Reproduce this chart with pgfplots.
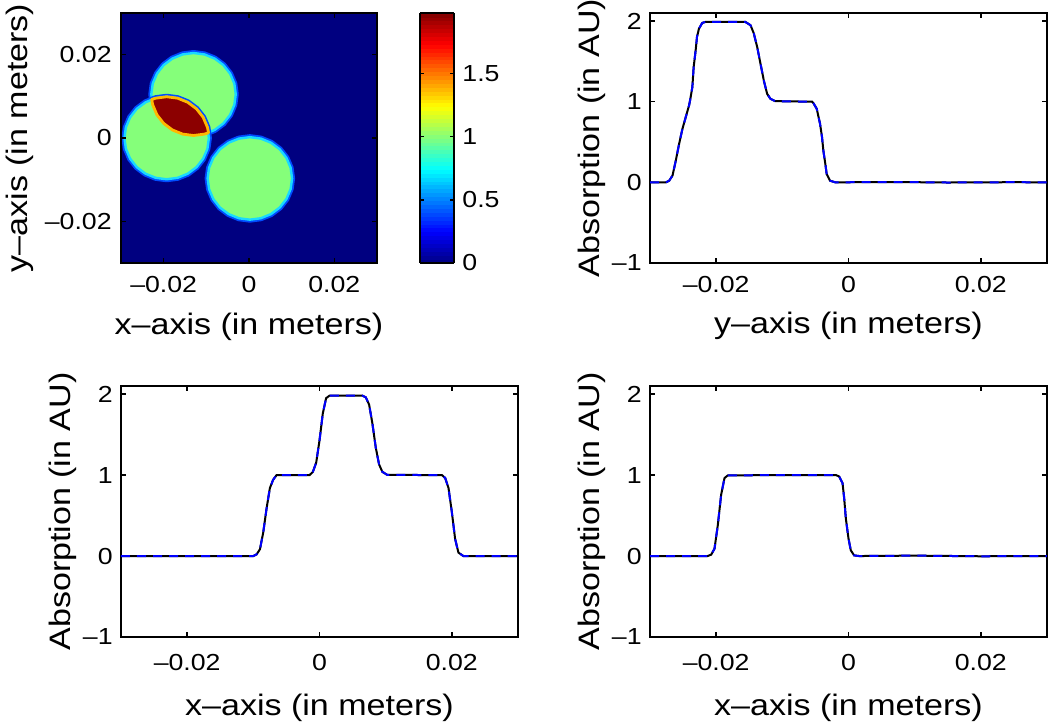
\documentclass[border=0pt]{standalone}
\usepackage{fontspec}
\setmainfont{Liberation Sans}[FakeStretch=1.15]
\usepackage{pgfplots}
\pgfplotsset{compat=1.18}
\usepackage{pgfplotstable}

\definecolor{jnavy}{rgb}{0,0,0.5}
\definecolor{jgreen}{rgb}{0.52,1,0.48}
\definecolor{jdred}{rgb}{0.55,0,0}
\definecolor{jedgeout}{rgb}{0,0.3,1}
\definecolor{jedgein}{rgb}{0.1,0.85,1}
\definecolor{jlensedge}{rgb}{1,0.72,0}
\definecolor{mblue}{rgb}{0,0,1}

\newcommand\ticksize{\fontsize{11.6}{13}\selectfont}
\newcommand\labsize{\fontsize{14.8}{17}\selectfont}

% profile along y (top right)
\pgfplotstableread{
x y
-0.0300 0.000
-0.0290 0.000
-0.0276 0.000
-0.0271 0.021
-0.0266 0.083
-0.0261 0.270
-0.0256 0.477
-0.0251 0.663
-0.0246 0.808
-0.0241 0.953
-0.0239 1.036
-0.0236 1.181
-0.0234 1.430
-0.0231 1.637
-0.0229 1.803
-0.0226 1.906
-0.0221 1.977
-0.0216 1.990
-0.0156 1.990
-0.0148 1.948
-0.0143 1.844
-0.0138 1.678
-0.0133 1.471
-0.0128 1.264
-0.0123 1.098
-0.0118 1.036
-0.0111 1.007
-0.0055 1.000
-0.0053 0.982
-0.0048 0.912
-0.0043 0.726
-0.0040 0.560
-0.0038 0.394
-0.0035 0.228
-0.0033 0.104
-0.0028 0.021
-0.0020 0.000
0.0050 0.004
0.0100 0.002
0.0150 -0.002
0.0200 0.000
0.0250 0.002
0.0300 0.000
}\tabTR

% profile along x (bottom left)
\pgfplotstableread{
x y
-0.0300 0.000
-0.0200 0.000
-0.0100 0.000
-0.0095 0.021
-0.0090 0.084
-0.0085 0.293
-0.0080 0.587
-0.0075 0.839
-0.0070 0.943
-0.0065 0.998
-0.0015 1.000
-0.0010 1.040
-0.0005 1.153
0.0000 1.426
0.0005 1.761
0.0010 1.950
0.0015 1.980
0.0065 1.980
0.0070 1.960
0.0075 1.870
0.0080 1.635
0.0085 1.342
0.0090 1.132
0.0095 1.040
0.01025 1.002
0.0185 1.000
0.0190 0.964
0.0195 0.839
0.0200 0.545
0.0205 0.210
0.0210 0.042
0.02175 0.000
0.0250 0.000
0.0300 0.000
}\tabBL

% profile along x (bottom right)
\pgfplotstableread{
x y
-0.0300 0.000
-0.0250 0.000
-0.0213 0.000
-0.02075 0.017
-0.02025 0.091
-0.01975 0.382
-0.01925 0.755
-0.01874 0.963
-0.01824 0.996
-0.0100 1.000
-0.0019 1.000
-0.00141 0.983
-0.00090 0.900
-0.00065 0.712
-0.00040 0.463
0.00000 0.216
0.00035 0.070
0.00085 0.008
0.0016 0.000
0.0100 0.005
0.0200 -0.003
0.0300 0.000
}\tabBR

\pgfplotsset{
  base/.style={
    scale only axis,
    xmin=-0.03, xmax=0.03,
    scaled x ticks=false, scaled y ticks=false,
    tick align=inside,
    major tick length=2.5pt,
    axis line style={line width=0.9pt},
    every tick/.style={black, line width=0.7pt},
    ticklabel style={font=\ticksize},
    label style={font=\labsize},
    xtick={-0.02,0,0.02},
    xticklabels={–0.02,0,0.02},
    yticklabel style={anchor=east, inner sep=0pt, xshift=-4pt},
  },
  prof/.style={
    base,
    width=198.5pt,
    ymin=-1, ymax=2.1,
    ytick={-1,0,1,2},
    yticklabels={–1,0,1,2},
    ylabel={Absorption (in AU)},
    ylabel style={at={([xshift=-25.5pt]axis description cs:0,0.5)}, anchor=base},
  },
  toprow/.style={
    height=125pt,
    xticklabel style={anchor=base, inner sep=0pt, yshift=-14.75pt},
    xlabel style={at={([yshift=-35.5pt]axis description cs:0.5,0)}, anchor=base},
  },
  botrow/.style={
    height=125.5pt,
    xticklabel style={anchor=base, inner sep=0pt, yshift=-16.5pt},
    xlabel style={at={([yshift=-39pt]axis description cs:0.5,0)}, anchor=base},
  },
  solidline/.style={black, line width=1pt},
  dashline/.style={mblue, line width=1pt, dash pattern=on 4.5pt off 3.5pt},
}

\begin{document}
\begin{tikzpicture}
% ---------------- top left: phantom image ----------------
\begin{axis}[
  base, toprow,
  at={(60.5pt,-6.5pt)}, anchor=north west,
  width=128pt,
  ymin=-0.03, ymax=0.03,
  ytick={-0.02,0,0.02},
  yticklabels={–0.02,0,0.02},
  yticklabel style={xshift=-0.5pt},
  axis background/.style={fill=jnavy},
  axis on top,
  xlabel={x–axis (in meters)},
  ylabel={y–axis (in meters)},
  ylabel style={at={([xshift=-46.8pt]axis description cs:0,0.5)}, anchor=base},
  colormap/jet,
  point meta min=0, point meta max=1.98,
  colorbar sampled,
  colorbar style={
    samples=65,
    width=17pt,
    at={(parent axis.north east)}, anchor=north west, xshift=13pt,
    scaled y ticks=false,
    ytick={0,0.5,1,1.5},
    yticklabels={0,0.5,1,1.5},
    ytick pos=both,
    yticklabel pos=right,
    tick align=inside,
    major tick length=2pt,
    axis line style={line width=0.9pt},
    every tick/.style={black, line width=0.7pt},
    yticklabel style={anchor=west, inner sep=0pt, xshift=4pt, font=\ticksize},
  },
]
% circle 1 (upper)
\addplot[fill=jgreen, draw=jedgein, line width=1.2pt, line join=round,
  preaction={draw=jedgeout, line width=3pt}] coordinates {
(-0.00310,0.01050) (-0.00344,0.01306) (-0.00443,0.01545) (-0.00600,0.01750)
(-0.00805,0.01907) (-0.01044,0.02006) (-0.01300,0.02040) (-0.01556,0.02006)
(-0.01795,0.01907) (-0.02000,0.01750) (-0.02157,0.01545) (-0.02256,0.01306)
(-0.02290,0.01050) (-0.02256,0.00794) (-0.02157,0.00555) (-0.02000,0.00350)
(-0.01795,0.00193) (-0.01556,0.00094) (-0.01300,0.00060) (-0.01044,0.00094)
(-0.00805,0.00193) (-0.00600,0.00350) (-0.00443,0.00555) (-0.00344,0.00794)
} -- cycle;
% circle 2 (lower left)
\addplot[fill=jgreen, draw=jedgein, line width=1.2pt, line join=round,
  preaction={draw=jedgeout, line width=3pt}] coordinates {
(-0.00940,0.00000) (-0.00974,0.00256) (-0.01073,0.00495) (-0.01230,0.00700)
(-0.01435,0.00857) (-0.01674,0.00956) (-0.01930,0.00990) (-0.02186,0.00956)
(-0.02425,0.00857) (-0.02630,0.00700) (-0.02787,0.00495) (-0.02886,0.00256)
(-0.02920,0.00000) (-0.02886,-0.00256) (-0.02787,-0.00495) (-0.02630,-0.00700)
(-0.02425,-0.00857) (-0.02186,-0.00956) (-0.01930,-0.00990) (-0.01674,-0.00956)
(-0.01435,-0.00857) (-0.01230,-0.00700) (-0.01073,-0.00495) (-0.00974,-0.00256)
} -- cycle;
% circle 3 (lower right)
\addplot[fill=jgreen, draw=jedgein, line width=1.2pt, line join=round,
  preaction={draw=jedgeout, line width=3pt}] coordinates {
(0.01010,-0.00970) (0.00976,-0.00714) (0.00877,-0.00475) (0.00720,-0.00270)
(0.00515,-0.00113) (0.00276,-0.00014) (0.00020,0.00020) (-0.00236,-0.00014)
(-0.00475,-0.00113) (-0.00680,-0.00270) (-0.00837,-0.00475) (-0.00936,-0.00714)
(-0.00970,-0.00970) (-0.00936,-0.01226) (-0.00837,-0.01465) (-0.00680,-0.01670)
(-0.00475,-0.01827) (-0.00236,-0.01926) (0.00020,-0.01960) (0.00276,-0.01926)
(0.00515,-0.01827) (0.00720,-0.01670) (0.00877,-0.01465) (0.00976,-0.01226)
} -- cycle;
% overlap lens (value about 2)
\addplot[fill=jdred, draw=jlensedge, line width=1.4pt, line join=round] coordinates {
(-0.02282,0.00925) (-0.02256,0.00794) (-0.02157,0.00555) (-0.02000,0.00350)
(-0.01795,0.00193) (-0.01556,0.00094) (-0.01300,0.00060) (-0.01044,0.00094)
(-0.00948,0.00125) (-0.00974,0.00256) (-0.01073,0.00495) (-0.01230,0.00700)
(-0.01435,0.00857) (-0.01674,0.00956) (-0.01930,0.00990) (-0.02186,0.00956)
} -- cycle;
\end{axis}

% ---------------- top right ----------------
\begin{axis}[prof, toprow, at={(325pt,-6.5pt)}, anchor=north west,
  xlabel={y–axis (in meters)}]
\addplot[solidline] table[x=x,y=y] {\tabTR};
\addplot[dashline] table[x=x,y=y] {\tabTR};
\end{axis}

% ---------------- bottom left ----------------
\begin{axis}[prof, botrow, at={(60.5pt,-193pt)}, anchor=north west,
  xlabel={x–axis (in meters)}]
\addplot[solidline] table[x=x,y=y] {\tabBL};
\addplot[dashline] table[x=x,y=y] {\tabBL};
\end{axis}

% ---------------- bottom right ----------------
\begin{axis}[prof, botrow, at={(325pt,-193pt)}, anchor=north west,
  xlabel={x–axis (in meters)}]
\addplot[solidline] table[x=x,y=y] {\tabBR};
\addplot[dashline] table[x=x,y=y] {\tabBR};
\end{axis}

\pgfresetboundingbox
\path[use as bounding box] (0pt,0pt) rectangle (525pt,-361.5pt);
\end{tikzpicture}
\end{document}
